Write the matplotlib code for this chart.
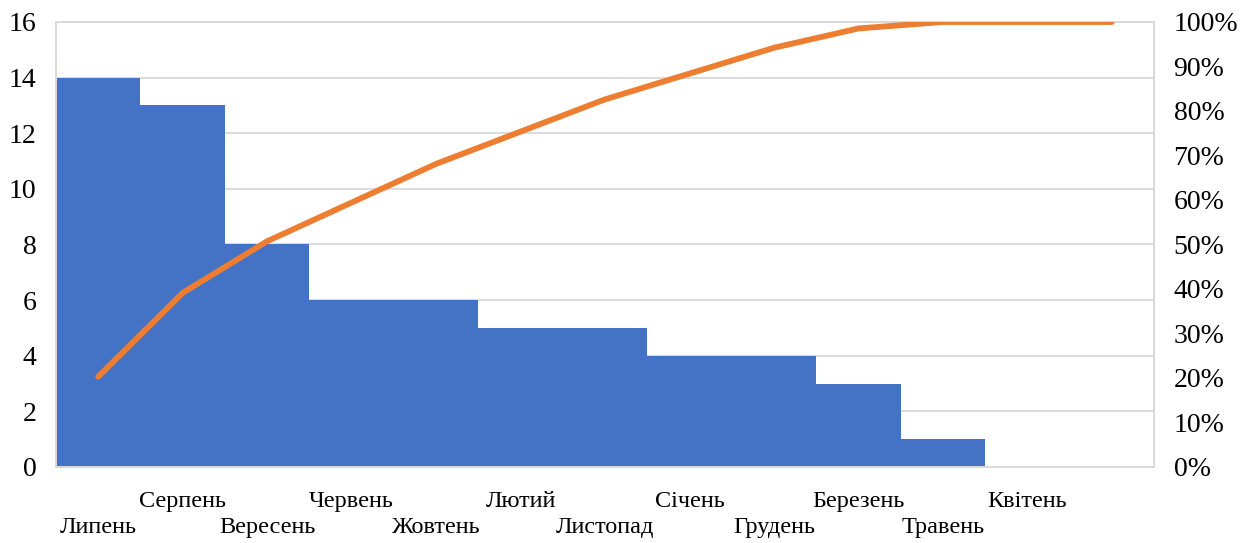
import matplotlib.pyplot as plt
from matplotlib.ticker import FuncFormatter

# місяці, відсортовані за спаданням
months = ["Липень", "Серпень", "Вересень", "Червень", "Жовтень", "Лютий",
          "Листопад", "Січень", "Грудень", "Березень", "Травень", "Квітень", ""]
counts = [14, 13, 8, 6, 6, 5, 5, 4, 4, 3, 1, 0, 0]

total = sum(counts)
cum_share = []
s = 0
for c in counts:
    s += c
    cum_share.append(s / total)

plt.rcParams['font.family'] = ['Liberation Serif', 'DejaVu Serif']

fig = plt.figure(figsize=(12.55, 5.43), dpi=100)
ax = fig.add_axes([0.0446, 0.140, 0.875, 0.8195])
x = range(len(months))

ax.bar(x, counts, width=1.0, color='#4472C4', linewidth=0, zorder=2)
ax.set_xlim(-0.5, len(months) - 0.5)
ax.set_ylim(0, 16)
ax.set_yticks(range(0, 17, 2))
ax.grid(axis='y', color='#d9d9d9', linewidth=1.3, zorder=0)
ax.set_axisbelow(True)

# підписи в два ряди
labels = []
for i, m in enumerate(months):
    labels.append(m + "\n" if i % 2 == 1 else "\n" + m)
ax.set_xticks(list(x))
ax.set_xticklabels(labels, fontsize=17.5, linespacing=1.35)
ax.tick_params(axis='x', length=0, pad=17)
ax.tick_params(axis='y', length=0, pad=14, labelsize=20)

for sp in ax.spines.values():
    sp.set_color('#d9d9d9')
    sp.set_linewidth(1.3)

ax2 = ax.twinx()
ax2.plot(x, cum_share, color='#ED7D31', linewidth=4.2, solid_capstyle='round', zorder=3)
ax2.set_ylim(0, 1)
ax2.set_yticks([i / 10 for i in range(11)])
ax2.yaxis.set_major_formatter(FuncFormatter(lambda v, p: "{:.0f}%".format(v * 100)))
ax2.tick_params(axis='y', length=0, pad=14, labelsize=20)
for sp in ax2.spines.values():
    sp.set_color('#d9d9d9')
    sp.set_linewidth(1.3)

plt.savefig("out.png")
